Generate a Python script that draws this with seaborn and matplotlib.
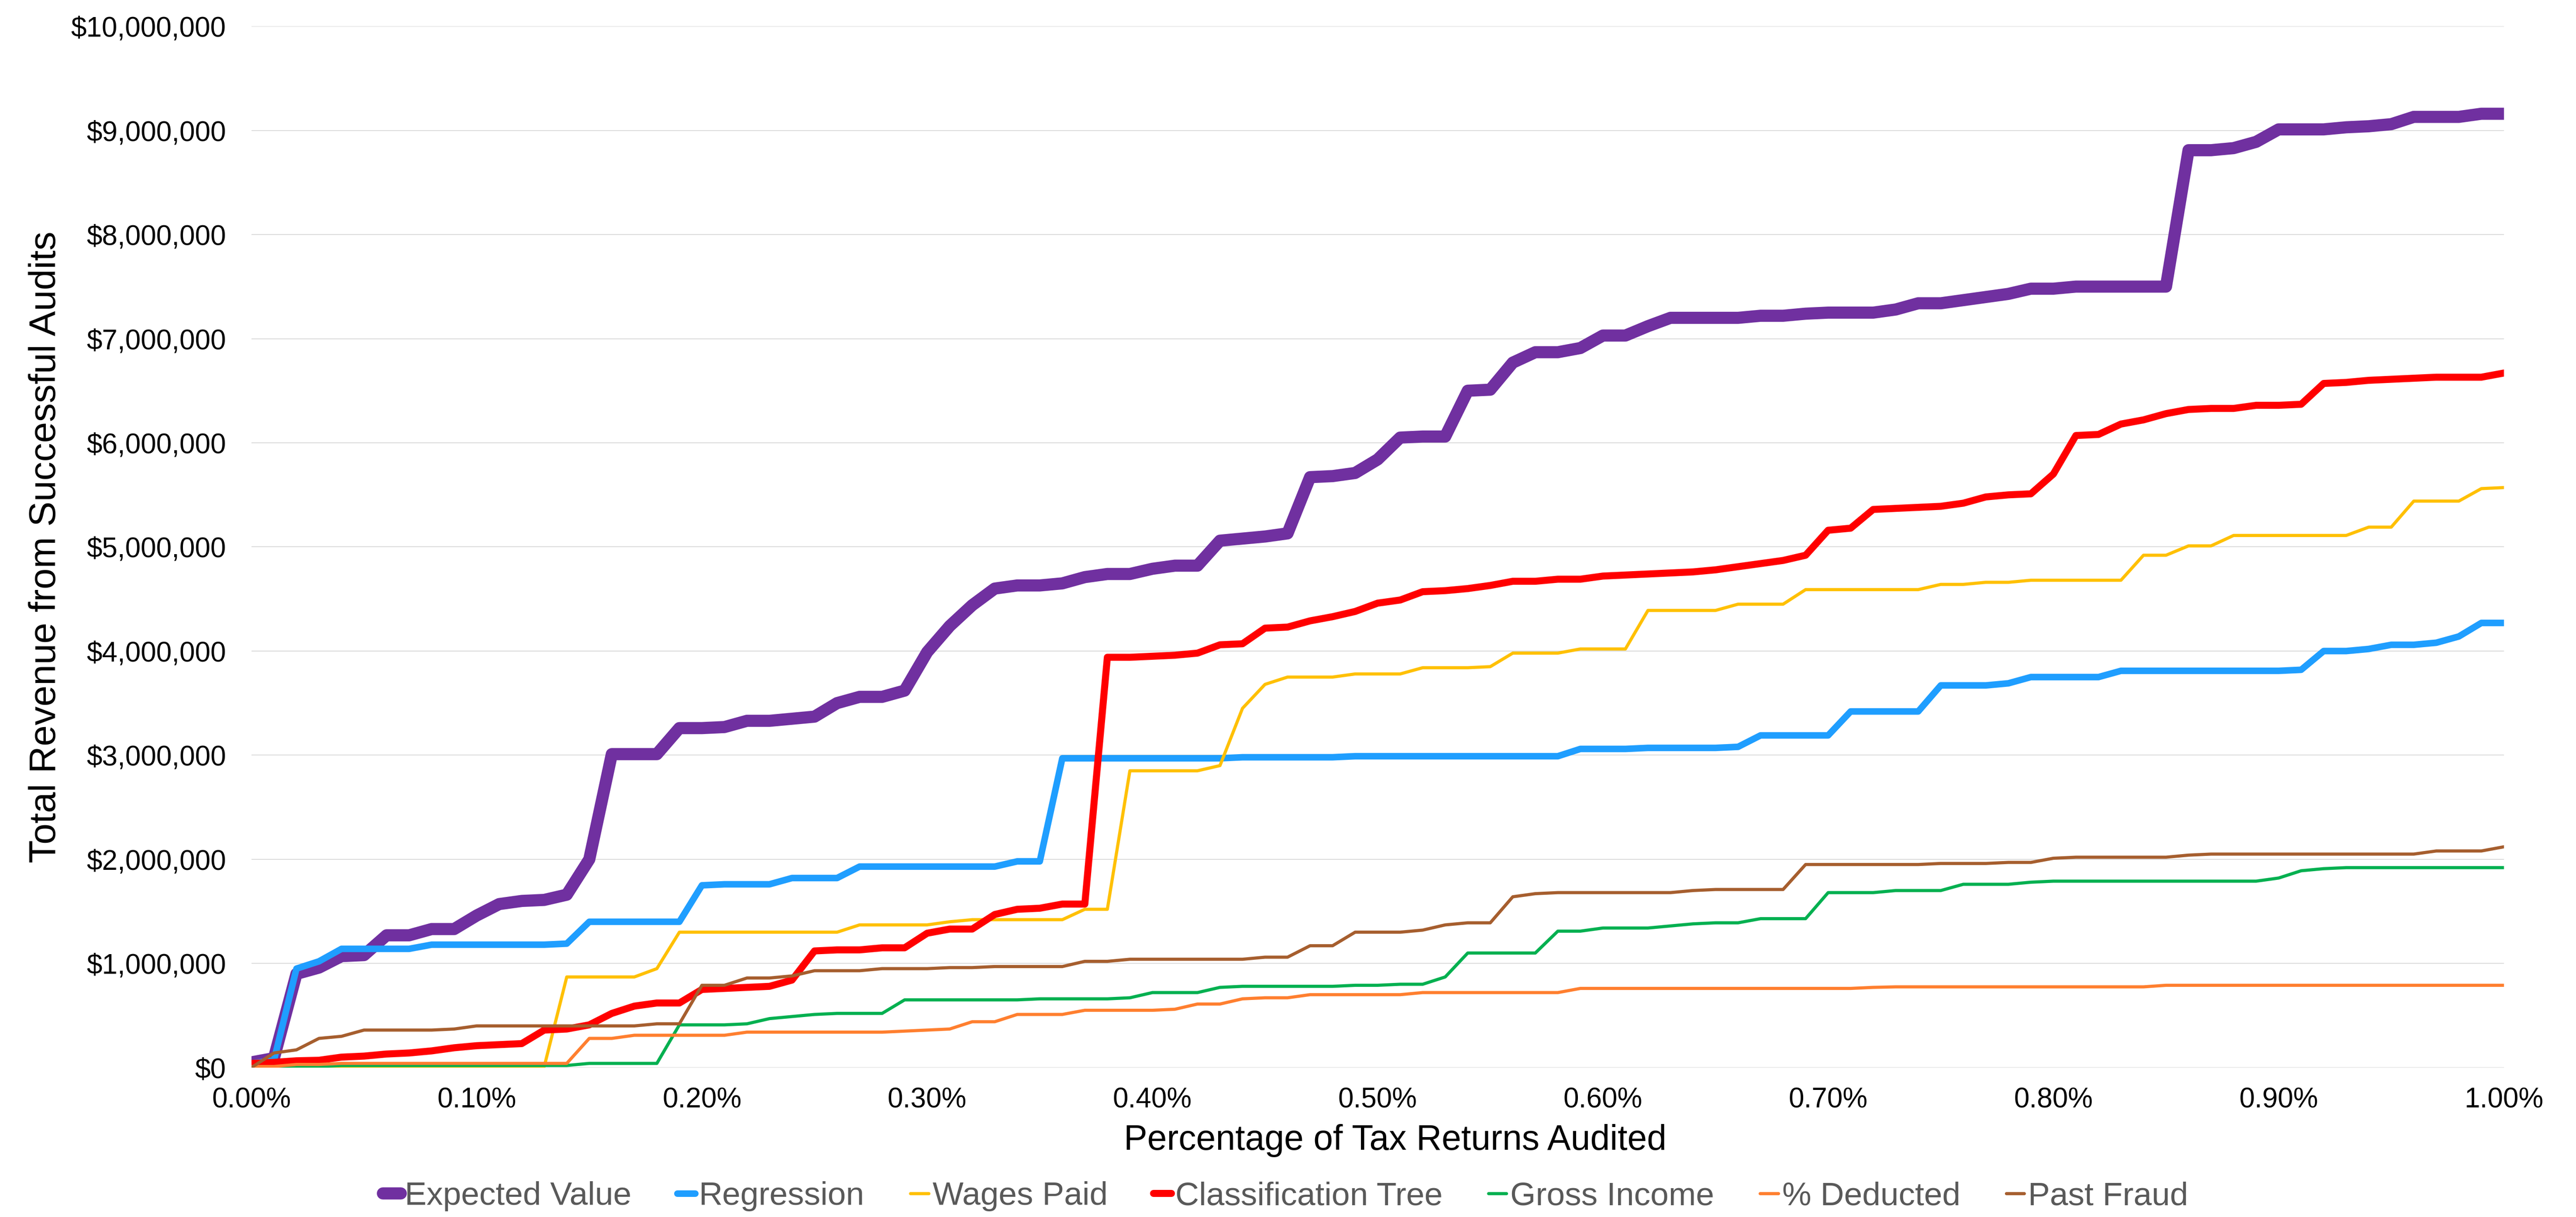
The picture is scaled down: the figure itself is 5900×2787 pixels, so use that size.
import numpy as np
import pandas as pd
import matplotlib
matplotlib.use("Agg")
import matplotlib.pyplot as plt
from matplotlib.lines import Line2D
from matplotlib.ticker import FuncFormatter, MultipleLocator
import seaborn as sns

# ---------------- data (values in $ millions) ----------------
pct_audited = np.arange(0, 101) / 100.0   # 0.00% .. 1.00%

expected_value = [
    0.05, 0.09, 0.90, 0.96, 1.07, 1.08, 1.27, 1.27, 1.33, 1.33,
    1.46, 1.57, 1.60, 1.61, 1.66, 2.00, 3.01, 3.01, 3.01, 3.26,
    3.26, 3.27, 3.33, 3.33, 3.35, 3.37, 3.50, 3.56, 3.56, 3.62,
    3.99, 4.24, 4.44, 4.60, 4.63, 4.63, 4.65, 4.71, 4.74, 4.74,
    4.79, 4.82, 4.82, 5.06, 5.08, 5.10, 5.13, 5.67, 5.68, 5.71,
    5.84, 6.05, 6.06, 6.06, 6.50, 6.51, 6.77, 6.87, 6.87, 6.91,
    7.03, 7.03, 7.12, 7.20, 7.20, 7.20, 7.20, 7.22, 7.22, 7.24,
    7.25, 7.25, 7.25, 7.28, 7.34, 7.34, 7.37, 7.40, 7.43, 7.48,
    7.48, 7.50, 7.50, 7.50, 7.50, 7.50, 8.81, 8.81, 8.83, 8.89,
    9.01, 9.01, 9.01, 9.03, 9.04, 9.06, 9.13, 9.13, 9.13, 9.16,
    9.16]

regression = [
    0.04, 0.07, 0.95, 1.02, 1.14, 1.14, 1.14, 1.14, 1.18, 1.18,
    1.18, 1.18, 1.18, 1.18, 1.19, 1.40, 1.40, 1.40, 1.40, 1.40,
    1.75, 1.76, 1.76, 1.76, 1.82, 1.82, 1.82, 1.93, 1.93, 1.93,
    1.93, 1.93, 1.93, 1.93, 1.98, 1.98, 2.97, 2.97, 2.97, 2.97,
    2.97, 2.97, 2.97, 2.97, 2.98, 2.98, 2.98, 2.98, 2.98, 2.99,
    2.99, 2.99, 2.99, 2.99, 2.99, 2.99, 2.99, 2.99, 2.99, 3.06,
    3.06, 3.06, 3.07, 3.07, 3.07, 3.07, 3.08, 3.19, 3.19, 3.19,
    3.19, 3.42, 3.42, 3.42, 3.42, 3.67, 3.67, 3.67, 3.69, 3.75,
    3.75, 3.75, 3.75, 3.81, 3.81, 3.81, 3.81, 3.81, 3.81, 3.81,
    3.81, 3.82, 4.00, 4.00, 4.02, 4.06, 4.06, 4.08, 4.14, 4.27,
    4.27]

wages_paid = [
    0.00, 0.00, 0.01, 0.01, 0.01, 0.01, 0.01, 0.01, 0.01, 0.01,
    0.01, 0.01, 0.01, 0.01, 0.87, 0.87, 0.87, 0.87, 0.95, 1.30,
    1.30, 1.30, 1.30, 1.30, 1.30, 1.30, 1.30, 1.37, 1.37, 1.37,
    1.37, 1.40, 1.42, 1.42, 1.42, 1.42, 1.42, 1.52, 1.52, 2.85,
    2.85, 2.85, 2.85, 2.90, 3.45, 3.68, 3.75, 3.75, 3.75, 3.78,
    3.78, 3.78, 3.84, 3.84, 3.84, 3.85, 3.98, 3.98, 3.98, 4.02,
    4.02, 4.02, 4.39, 4.39, 4.39, 4.39, 4.45, 4.45, 4.45, 4.59,
    4.59, 4.59, 4.59, 4.59, 4.59, 4.64, 4.64, 4.66, 4.66, 4.68,
    4.68, 4.68, 4.68, 4.68, 4.92, 4.92, 5.01, 5.01, 5.11, 5.11,
    5.11, 5.11, 5.11, 5.11, 5.19, 5.19, 5.44, 5.44, 5.44, 5.56,
    5.57]

classification_tree = [
    0.04, 0.05, 0.065, 0.07, 0.10, 0.11, 0.13, 0.14, 0.16, 0.19,
    0.21, 0.22, 0.23, 0.36, 0.37, 0.41, 0.52, 0.59, 0.62, 0.62,
    0.75, 0.76, 0.77, 0.78, 0.84, 1.12, 1.13, 1.13, 1.15, 1.15,
    1.29, 1.33, 1.33, 1.47, 1.52, 1.53, 1.57, 1.57, 3.94, 3.94,
    3.95, 3.96, 3.98, 4.06, 4.07, 4.22, 4.23, 4.29, 4.33, 4.38,
    4.46, 4.49, 4.57, 4.58, 4.60, 4.63, 4.67, 4.67, 4.69, 4.69,
    4.72, 4.73, 4.74, 4.75, 4.76, 4.78, 4.81, 4.84, 4.87, 4.92,
    5.16, 5.18, 5.36, 5.37, 5.38, 5.39, 5.42, 5.48, 5.50, 5.51,
    5.70, 6.07, 6.08, 6.18, 6.22, 6.28, 6.32, 6.33, 6.33, 6.36,
    6.36, 6.37, 6.57, 6.58, 6.60, 6.61, 6.62, 6.63, 6.63, 6.63,
    6.67]

gross_income = [
    0.00, 0.00, 0.01, 0.01, 0.02, 0.02, 0.02, 0.02, 0.02, 0.02,
    0.02, 0.02, 0.02, 0.02, 0.02, 0.04, 0.04, 0.04, 0.04, 0.41,
    0.41, 0.41, 0.42, 0.47, 0.49, 0.51, 0.52, 0.52, 0.52, 0.65,
    0.65, 0.65, 0.65, 0.65, 0.65, 0.66, 0.66, 0.66, 0.66, 0.67,
    0.72, 0.72, 0.72, 0.77, 0.78, 0.78, 0.78, 0.78, 0.78, 0.79,
    0.79, 0.80, 0.80, 0.87, 1.10, 1.10, 1.10, 1.10, 1.31, 1.31,
    1.34, 1.34, 1.34, 1.36, 1.38, 1.39, 1.39, 1.43, 1.43, 1.43,
    1.68, 1.68, 1.68, 1.70, 1.70, 1.70, 1.76, 1.76, 1.76, 1.78,
    1.79, 1.79, 1.79, 1.79, 1.79, 1.79, 1.79, 1.79, 1.79, 1.79,
    1.82, 1.89, 1.91, 1.92, 1.92, 1.92, 1.92, 1.92, 1.92, 1.92,
    1.92]

pct_deducted = [
    0.01, 0.01, 0.03, 0.03, 0.04, 0.04, 0.04, 0.04, 0.04, 0.04,
    0.04, 0.04, 0.04, 0.04, 0.04, 0.28, 0.28, 0.31, 0.31, 0.31,
    0.31, 0.31, 0.34, 0.34, 0.34, 0.34, 0.34, 0.34, 0.34, 0.35,
    0.36, 0.37, 0.44, 0.44, 0.51, 0.51, 0.51, 0.55, 0.55, 0.55,
    0.55, 0.56, 0.61, 0.61, 0.66, 0.67, 0.67, 0.70, 0.70, 0.70,
    0.70, 0.70, 0.72, 0.72, 0.72, 0.72, 0.72, 0.72, 0.72, 0.76,
    0.76, 0.76, 0.76, 0.76, 0.76, 0.76, 0.76, 0.76, 0.76, 0.76,
    0.76, 0.76, 0.77, 0.775, 0.775, 0.775, 0.775, 0.775, 0.775, 0.775,
    0.775, 0.775, 0.775, 0.775, 0.775, 0.79, 0.79, 0.79, 0.79, 0.79,
    0.79, 0.79, 0.79, 0.79, 0.79, 0.79, 0.79, 0.79, 0.79, 0.79,
    0.79]

past_fraud = [
    0.00, 0.14, 0.17, 0.28, 0.30, 0.36, 0.36, 0.36, 0.36, 0.37,
    0.40, 0.40, 0.40, 0.40, 0.40, 0.40, 0.40, 0.40, 0.42, 0.42,
    0.79, 0.79, 0.86, 0.86, 0.88, 0.93, 0.93, 0.93, 0.95, 0.95,
    0.95, 0.96, 0.96, 0.97, 0.97, 0.97, 0.97, 1.02, 1.02, 1.04,
    1.04, 1.04, 1.04, 1.04, 1.04, 1.06, 1.06, 1.17, 1.17, 1.30,
    1.30, 1.30, 1.32, 1.37, 1.39, 1.39, 1.64, 1.67, 1.68, 1.68,
    1.68, 1.68, 1.68, 1.68, 1.70, 1.71, 1.71, 1.71, 1.71, 1.95,
    1.95, 1.95, 1.95, 1.95, 1.95, 1.96, 1.96, 1.96, 1.97, 1.97,
    2.01, 2.02, 2.02, 2.02, 2.02, 2.02, 2.04, 2.05, 2.05, 2.05,
    2.05, 2.05, 2.05, 2.05, 2.05, 2.05, 2.05, 2.08, 2.08, 2.08,
    2.12]

series_names = ["Expected Value", "Regression", "Wages Paid", "Classification Tree",
                "Gross Income", "% Deducted", "Past Fraud"]
series_values = [expected_value, regression, wages_paid, classification_tree,
                 gross_income, pct_deducted, past_fraud]
series_colors = ["#7030A0", "#1F9EFF", "#FFC000", "#FF0000",
                 "#00B050", "#FF7F2F", "#A65E2E"]
series_widths = [10.0, 5.4, 2.6, 5.8, 2.6, 2.6, 2.6]

rows = []
for name, vals in zip(series_names, series_values):
    for xv, yv in zip(pct_audited, vals):
        rows.append({"pct": xv, "revenue": yv * 1e6, "model": name})
df = pd.DataFrame(rows)

# ---------------- style ----------------
sns.set_theme(style="white")
plt.rcParams["font.family"] = ["Liberation Sans", "DejaVu Sans"]

fig = plt.figure(figsize=(29.5, 13.935), dpi=200)
ax = fig.add_axes([0.0976, 0.1228, 0.8744, 0.8556])

for name, color, lw in zip(series_names, series_colors, series_widths):
    sub = df[df["model"] == name]
    sns.lineplot(data=sub, x="pct", y="revenue", ax=ax, color=color,
                 linewidth=lw, legend=False, sort=False, estimator=None)

for ln in ax.get_lines():
    ln.set_solid_joinstyle("round")

ax.set_xlim(0, 1.0)
ax.set_ylim(0, 10e6)
ax.xaxis.set_major_locator(MultipleLocator(0.1))
ax.yaxis.set_major_locator(MultipleLocator(1e6))
ax.xaxis.set_major_formatter(FuncFormatter(lambda v, p: f"{v:.2f}%"))
ax.yaxis.set_major_formatter(FuncFormatter(lambda v, p: f"${v:,.0f}"))

ax.grid(axis="y", color="#D9D9D9", linewidth=0.7)
ax.grid(axis="x", visible=False)
ax.set_axisbelow(True)
for s in ax.spines.values():
    s.set_visible(False)

ax.tick_params(axis="both", length=0, labelsize=23, colors="black")
ax.tick_params(axis="x", pad=16)
ax.tick_params(axis="y", pad=21)

ax.set_xlabel("Percentage of Tax Returns Audited", fontsize=29, color="black")
ax.set_ylabel("Total Revenue from Successful Audits", fontsize=31, color="black")
ax.xaxis.label.set_verticalalignment("center")
ax.yaxis.label.set_verticalalignment("center")
ax.xaxis.set_label_coords(0.5077, -0.070)
ax.yaxis.set_label_coords(-0.0912, 0.5)

handles = [Line2D([0], [0], color=c, linewidth=w, solid_capstyle="round")
           for c, w in zip(series_colors, series_widths)]
leg = fig.legend(handles, series_names, loc="center", bbox_to_anchor=(0.499, 0.017),
                 ncol=7, frameon=False, fontsize=27, handlelength=0.55,
                 handletextpad=0.12, columnspacing=1.4, labelcolor="#595959")

fig.savefig("out.png", dpi=200, facecolor="white")
